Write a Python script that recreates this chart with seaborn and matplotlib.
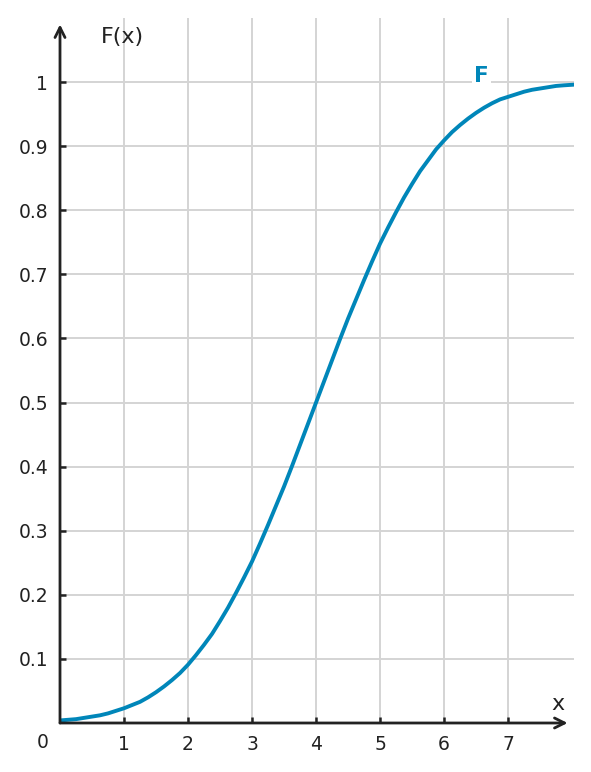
import matplotlib
matplotlib.use("Agg")
import matplotlib.pyplot as plt
import pandas as pd
import seaborn as sns

# values
x_vals = [0.0, 0.125, 0.25, 0.375, 0.5, 0.625, 0.75, 0.875,
          1.0, 1.125, 1.25, 1.375, 1.5, 1.625, 1.75, 1.875,
          2.0, 2.125, 2.25, 2.375, 2.5, 2.625, 2.75, 2.875,
          3.0, 3.125, 3.25, 3.375, 3.5, 3.625, 3.75, 3.875,
          4.0, 4.125, 4.25, 4.375, 4.5, 4.625, 4.75, 4.875,
          5.0, 5.125, 5.25, 5.375, 5.5, 5.625, 5.75, 5.875,
          6.0, 6.125, 6.25, 6.375, 6.5, 6.625, 6.75, 6.875,
          7.0, 7.125, 7.25, 7.375, 7.5, 7.625, 7.75, 7.875, 8.03]
f_vals = [0.004, 0.005, 0.006, 0.008, 0.010, 0.012, 0.015, 0.019,
          0.023, 0.028, 0.033, 0.040, 0.048, 0.057, 0.067, 0.078,
          0.091, 0.106, 0.122, 0.139, 0.159, 0.180, 0.203, 0.227,
          0.252, 0.280, 0.309, 0.339, 0.369, 0.401, 0.434, 0.467,
          0.500, 0.533, 0.566, 0.599, 0.631, 0.661, 0.691, 0.720,
          0.748, 0.773, 0.797, 0.820, 0.841, 0.861, 0.878, 0.895,
          0.909, 0.922, 0.933, 0.943, 0.952, 0.960, 0.967, 0.973,
          0.977, 0.981, 0.985, 0.988, 0.990, 0.992, 0.994, 0.995, 0.996]
x_ticks = [1, 2, 3, 4, 5, 6, 7]
y_ticks = [0.1, 0.2, 0.3, 0.4, 0.5, 0.6, 0.7, 0.8, 0.9, 1.0]
y_labels = ["0.1", "0.2", "0.3", "0.4", "0.5", "0.6", "0.7", "0.8", "0.9", "1"]

df = pd.DataFrame({"x": x_vals, "F": f_vals})

sns.set_theme(style="whitegrid")
plt.rcParams["font.family"] = ["DejaVu Sans"]

BLUE = "#0086b9"
DARK = "#222222"

fig = plt.figure(figsize=(5.91, 7.72), dpi=100)
ax = fig.add_axes([60 / 591, 49 / 772, 514 / 591, 705 / 772])

sns.lineplot(data=df, x="x", y="F", ax=ax, color=BLUE, linewidth=2.8, zorder=3)

ax.set_xlim(0, 8.03)
ax.set_ylim(0, 1.10)
ax.set_xticks(x_ticks)
ax.set_yticks(y_ticks)
ax.set_yticklabels(y_labels)
ax.grid(True, color="#d4d4d4", linewidth=1.4)
ax.set_facecolor("white")
for s in ax.spines.values():
    s.set_visible(False)
ax.tick_params(axis="both", direction="in", length=4.5, width=1.8,
               color=DARK, labelcolor=DARK, labelsize=13.5,
               bottom=True, left=True)
ax.tick_params(axis="y", pad=8.5)
ax.tick_params(axis="x", pad=8.5)
ax.set_xlabel("")
ax.set_ylabel("")

# axis arrows
arrow = dict(arrowstyle="->,head_length=0.6,head_width=0.3", color=DARK,
             linewidth=2.0, shrinkA=0, shrinkB=0)
ax.annotate("", xy=(0, 1.09), xytext=(0, 0), arrowprops=arrow,
            annotation_clip=False, zorder=4)
ax.annotate("", xy=(7.93, 0), xytext=(0, 0), arrowprops=arrow,
            annotation_clip=False, zorder=4)

ax.text(0.97, 1.071, "F(x)", fontsize=16, color=DARK, ha="center", va="center")
ax.text(7.78, 0.029, "x", fontsize=16, color=DARK, ha="center", va="center")
ax.annotate("0", xy=(0, 0), xytext=(-12.2, -13.7), textcoords="offset points",
            fontsize=13.5, color=DARK, ha="center", va="center", annotation_clip=False)
ax.text(6.58, 1.009, "F", fontsize=15.5, fontweight="bold", color=BLUE,
        ha="center", va="center", zorder=4,
        bbox=dict(facecolor="white", edgecolor="none", pad=1.5))

fig.savefig("out.png", dpi=100)
